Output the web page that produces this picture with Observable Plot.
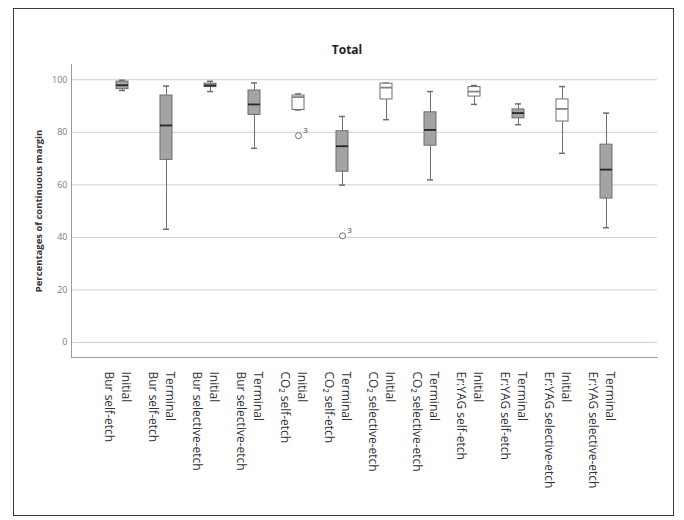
<!DOCTYPE html>
<html>
<head>
<meta charset="utf-8">
<script src="https://cdn.jsdelivr.net/npm/d3@7"></script>
<script src="https://cdn.jsdelivr.net/npm/@observablehq/plot@0.6"></script>
<style>
  body { margin: 0; background: #fff; }
  #page { position: relative; width: 684px; height: 520px; background: #fff; overflow: hidden; }
  #border { position: absolute; left: 13px; top: 8px; width: 661px; height: 508px; border: 1.5px solid #3a3a3a; box-sizing: border-box; }
  #title { position: absolute; left: 0; top: 41px; width: 694px; text-align: center; font: bold 12px "Open Sans", sans-serif; color: #222; }
  #chart { position: absolute; left: 0; top: 60px; }
</style>
</head>
<body>
<div id="page">
  <div id="border"></div>
  <div id="title">Total</div>
  <div id="chart"></div>
</div>
<script>
const methods = ["Bur self-etch","Bur self-etch","Bur selective-etch","Bur selective-etch","CO\u2082 self-etch","CO\u2082 self-etch","CO\u2082 selective-etch","CO\u2082 selective-etch","Er:YAG self-etch","Er:YAG self-etch","Er:YAG selective-etch","Er:YAG selective-etch"];
const phases = ["Initial","Terminal","Initial","Terminal","Initial","Terminal","Initial","Terminal","Initial","Terminal","Initial","Terminal"];
const whiskerLow  = [95.9, 43.1, 95.5, 73.9, 88.5, 59.9, 84.8, 61.9, 90.6, 82.9, 72.0, 43.7];
const q1          = [96.4, 69.5, 97.2, 86.6, 88.5, 65.0, 92.5, 74.9, 93.6, 85.3, 84.1, 54.8];
const median      = [97.9, 82.6, 97.8, 90.6, 93.4, 74.7, 97.0, 80.9, 95.5, 87.3, 88.9, 65.8];
const q3          = [99.3, 94.0, 98.5, 95.9, 94.0, 80.4, 98.5, 87.6, 97.2, 88.7, 92.5, 75.3];
const whiskerHigh = [99.8, 97.6, 99.4, 98.8, 94.6, 86.0, 98.7, 95.5, 97.8, 90.8, 97.4, 87.3];
const outlierGroup = [4, 5];
const outlierValue = [78.7, 40.6];
const outlierLabel = ["3", "3"];
const yTicks = [0, 20, 40, 60, 80, 100];
const yDomain = [-5.7, 105.8];
const yTitle = "Percentages of continuous margin";

const keys = methods.map((m, i) => m + "|" + phases[i]);
const boxes = keys.map((k, i) => ({
  key: k, method: methods[i], phase: phases[i],
  low: whiskerLow[i], q1: q1[i], med: median[i], q3: q3[i], high: whiskerHigh[i]
}));
const outliers = outlierGroup.map((g, j) => ({key: keys[g], value: outlierValue[j], label: outlierLabel[j]}));
const shaded = d => d.phase === "Terminal" || d.method.startsWith("Bur");

const boxInset = 14, capInset = 17;
const chart = Plot.plot({
  width: 684,
  height: 450,
  marginTop: 4,
  marginLeft: 71,
  marginRight: 27,
  marginBottom: 153,
  style: {fontFamily: "'Open Sans', sans-serif", fontSize: "10px", color: "#333", background: "transparent"},
  x: {type: "band", domain: keys, paddingInner: 0.1, paddingOuter: 0.7, axis: null},
  y: {domain: yDomain},
  marks: [
    Plot.gridY(yTicks, {stroke: "#c3d2dc", strokeOpacity: 1, strokeWidth: 1}),
    Plot.axisY(yTicks, {tickSize: 0, tickPadding: 4, fill: "#7a7a7a", fontSize: 9, label: null}),
    Plot.text([yTitle], {frameAnchor: "left", text: d => d, rotate: -90, dx: -33, textAnchor: "middle",
      fontWeight: "bold", fontSize: 9.5, fill: "#333"}),
    Plot.frame({anchor: "left", stroke: "#9a9a9a"}),
    Plot.frame({anchor: "bottom", stroke: "#9a9a9a"}),
    Plot.ruleX(boxes, {x: "key", y1: "low", y2: "high", stroke: "#6e6e6e", strokeWidth: 1}),
    Plot.tickY(boxes, {x: "key", y: "low", stroke: "#6e6e6e", strokeWidth: 1.5, insetLeft: capInset, insetRight: capInset}),
    Plot.tickY(boxes, {x: "key", y: "high", stroke: "#6e6e6e", strokeWidth: 1.5, insetLeft: capInset, insetRight: capInset}),
    Plot.barY(boxes, {x: "key", y1: "q1", y2: "q3", fill: d => shaded(d) ? "#a4a4a4" : "#ffffff",
      stroke: "#6e6e6e", strokeWidth: 1, insetLeft: boxInset, insetRight: boxInset}),
    Plot.tickY(boxes, {x: "key", y: "med", stroke: d => shaded(d) ? "#262626" : "#8a7f84", strokeWidth: 1.8,
      insetLeft: boxInset, insetRight: boxInset}),
    Plot.dot(outliers, {x: "key", y: "value", r: 3, stroke: "#6e6e6e", fill: "white", strokeWidth: 1}),
    Plot.text(outliers, {x: "key", y: "value", text: "label", dx: 7, dy: -5, fontSize: 8, fill: "#444"}),
    Plot.text(boxes, {x: "key", frameAnchor: "bottom", text: d => d.phase + "\n" + d.method,
      rotate: 90, textAnchor: "start", lineAnchor: "middle", lineHeight: 1.42, dy: 14, dx: -3.5,
      fontSize: 12, fill: "#333"})
  ]
});

document.getElementById("chart").append(chart);
</script>
</body>
</html>
